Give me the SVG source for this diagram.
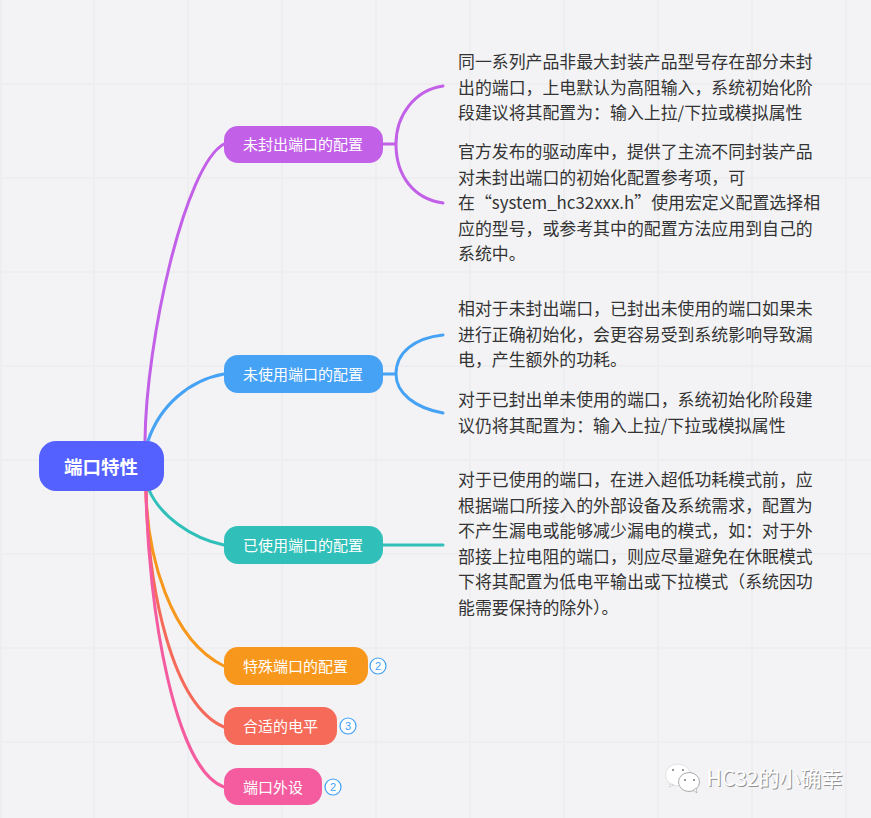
<svg xmlns="http://www.w3.org/2000/svg" width="871" height="818" viewBox="0 0 871 818">
<style>
text{font-family:"Noto Sans CJK SC","Noto Sans",sans-serif}
.g{stroke:#eeeef0;stroke-width:2;fill:none}
.c{fill:none;stroke-width:3;stroke-linecap:round}
.n{fill:#fff;font-size:15px;dominant-baseline:central}
.t{fill:#333;font-size:16.9px}
.b circle{fill:#fff;stroke:#3f9ff5;stroke-width:1.2}
.b text{fill:#3f9ff5;font-size:11px;text-anchor:middle;font-family:"Liberation Sans",sans-serif}
</style>
<rect width="871" height="818" fill="#f3f3f6"/>
<path class="g" d="M1 0V818M94 0V818M188 0V818M282 0V818M376 0V818M470 0V818M564 0V818M658 0V818M752 0V818M846 0V818M0 84H871M0 178H871M0 272H871M0 366H871M0 460H871M0 554H871M0 648H871M0 742H871"/>
<g id="connectors">
<path class="c" stroke="#c261e8" d="M145 441C146 340 185 165 224 144"/>
<path class="c" stroke="#c261e8" d="M383 144H396M443 86C415 90 396 115 396 144C396 176 414 199 443 203"/>
<path class="c" stroke="#46a2f5" d="M148 441C160 405 190 380 224 374"/>
<path class="c" stroke="#46a2f5" d="M383 374H396M443 335C415 338 396 352 396 374C396 393 415 408 443 413"/>
<path class="c" stroke="#30c0b9" d="M149 490C160 515 190 538 224 545"/>
<path class="c" stroke="#30c0b9" d="M383 545H443"/>
<path class="c" stroke="#f7981d" d="M146 490C147 555 170 640 224 666"/>
<path class="c" stroke="#f56a58" d="M146 490C148 590 172 705 224 727"/>
<path class="c" stroke="#f45c9f" d="M146 490C148 610 175 770 224 787"/>
</g>
<g id="root"><rect x="39" y="441" width="125" height="50" rx="17" fill="#5561ff"/><text x="101" y="465.500" text-anchor="middle" dominant-baseline="central" fill="#fff" font-size="18.500" font-weight="700">端口特性</text></g>
<g id="n1"><rect x="224" y="126" width="159" height="37" rx="14" fill="#c261e8"/><text class="n" x="243" y="143.500">未封出端口的配置</text></g>
<g id="n2"><rect x="224" y="355" width="159" height="38" rx="14" fill="#46a2f5"/><text class="n" x="243" y="373">未使用端口的配置</text></g>
<g id="n3"><rect x="224" y="526" width="159" height="38" rx="14" fill="#30c0b9"/><text class="n" x="243" y="544">已使用端口的配置</text></g>
<g id="n4"><rect x="224" y="647" width="144" height="38" rx="14" fill="#f7981d"/><text class="n" x="243" y="665">特殊端口的配置</text></g>
<g id="n5"><rect x="224" y="707" width="113" height="38" rx="14" fill="#f56a58"/><text class="n" x="243" y="725">合适的电平</text></g>
<g id="n6"><rect x="224" y="768" width="98" height="37" rx="14" fill="#f45c9f"/><text class="n" x="243" y="786">端口外设</text></g>
<g class="b" id="b4"><circle cx="378" cy="666" r="8"/><text x="378" y="670">2</text></g>
<g class="b" id="b5"><circle cx="348" cy="726" r="8"/><text x="348" y="730">3</text></g>
<g class="b" id="b6"><circle cx="333" cy="787" r="8"/><text x="333" y="791">2</text></g>
<g id="t1"><text class="t" x="458" y="68">同一系列产品非最大封装产品型号存在部分未封</text><text class="t" x="458" y="93.500">出的端口，上电默认为高阻输入，系统初始化阶</text><text class="t" x="458" y="119">段建议将其配置为：输入上拉/下拉或模拟属性</text></g>
<g id="t2"><text class="t" x="458" y="158">官方发布的驱动库中，提供了主流不同封装产品</text><text class="t" x="458" y="184">对未封出端口的初始化配置参考项，可</text><text class="t" x="458" y="209">在“system_hc32xxx.h”使用宏定义配置选择相</text><text class="t" x="458" y="234.500">应的型号，或参考其中的配置方法应用到自己的</text><text class="t" x="458" y="260">系统中。</text></g>
<g id="t3"><text class="t" x="458" y="315">相对于未封出端口，已封出未使用的端口如果未</text><text class="t" x="458" y="341">进行正确初始化，会更容易受到系统影响导致漏</text><text class="t" x="458" y="366">电，产生额外的功耗。</text></g>
<g id="t4"><text class="t" x="458" y="406">对于已封出单未使用的端口，系统初始化阶段建</text><text class="t" x="458" y="431.500">议仍将其配置为：输入上拉/下拉或模拟属性</text></g>
<g id="t5"><text class="t" x="458" y="486">对于已使用的端口，在进入超低功耗模式前，应</text><text class="t" x="458" y="512">根据端口所接入的外部设备及系统需求，配置为</text><text class="t" x="458" y="537">不产生漏电或能够减少漏电的模式，如：对于外</text><text class="t" x="458" y="563">部接上拉电阻的端口，则应尽量避免在休眠模式</text><text class="t" x="458" y="588">下将其配置为低电平输出或下拉模式（系统因功</text><text class="t" x="458" y="614">能需要保持的除外）。</text></g>
<g id="watermark">
<ellipse cx="678" cy="775" rx="12.500" ry="11" fill="#fff" stroke="#d0d0d0" stroke-width=".6"/>
<path d="M670 784L669 787L674 785Z" fill="#fff" stroke="#bbb" stroke-width=".5"/>
<ellipse cx="689" cy="782" rx="10.500" ry="9.500" fill="#fff" stroke="#888" stroke-width=".7"/>
<path d="M693 790L697 793L696 788Z" fill="#fff" stroke="#888" stroke-width=".5"/>
<g fill="#777"><circle cx="673" cy="770" r="1"/><circle cx="683" cy="770" r="1"/><circle cx="685" cy="780" r="1"/><circle cx="694" cy="780" r="1"/></g>
<text x="707.500" y="787" font-size="21" fill="#888" opacity=".9">HC32的小确幸</text>
<text x="706.500" y="786" font-size="21" fill="#fff">HC32的小确幸</text>
</g>
</svg>
